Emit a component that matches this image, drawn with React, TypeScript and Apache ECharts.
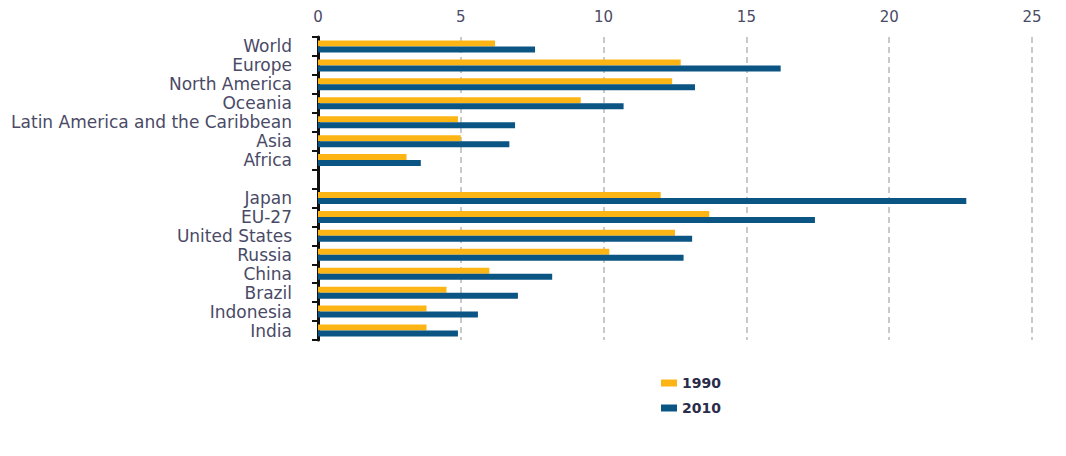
import React, { useEffect, useRef } from "react";
import * as echarts from "echarts";

const categories = [
  "World",
  "Europe",
  "North America",
  "Oceania",
  "Latin America and the Caribbean",
  "Asia",
  "Africa",
  "",
  "Japan",
  "EU-27",
  "United States",
  "Russia",
  "China",
  "Brazil",
  "Indonesia",
  "India",
];

const values1990 = [6.2, 12.7, 12.4, 9.2, 4.9, 5.0, 3.1, null, 12.0, 13.7, 12.5, 10.2, 6.0, 4.5, 3.8, 3.8];
const values2010 = [7.6, 16.2, 13.2, 10.7, 6.9, 6.7, 3.6, null, 22.7, 17.4, 13.1, 12.8, 8.2, 7.0, 5.6, 4.9];

const xTicks = [0, 5, 10, 15, 20, 25];

const seriesNames = ["1990", "2010"];
const colors = ["#FDB515", "#0B5584"];

export default function App() {
  const ref = useRef<HTMLDivElement>(null);

  useEffect(() => {
    if (!ref.current) return;
    const chart = echarts.init(ref.current, null, { renderer: "svg" });
    const font = "'DejaVu Sans', sans-serif";
    chart.setOption({
      animation: false,
      backgroundColor: "#ffffff",
      grid: { left: 318, right: 34, top: 37, height: 303 },
      legend: {
        orient: "vertical",
        left: 656,
        top: 371,
        itemWidth: 16,
        itemHeight: 7,
        itemGap: 11,
        icon: "rect",
        data: seriesNames,
        textStyle: {
          fontFamily: font,
          fontSize: 14,
          fontWeight: "bold",
          color: "#2b2b4a",
        },
      },
      xAxis: {
        type: "value",
        position: "top",
        min: xTicks[0],
        max: xTicks[xTicks.length - 1],
        interval: 5,
        axisLine: { show: false },
        axisTick: { show: false },
        axisLabel: {
          margin: 13,
          fontFamily: font,
          fontSize: 15,
          color: "#4a4a66",
        },
        splitLine: {
          show: true,
          lineStyle: { color: "#b8b8b8", type: [6, 4], width: 1.5 },
        },
      },
      yAxis: {
        type: "category",
        inverse: true,
        data: categories,
        axisLine: { show: true, lineStyle: { color: "#111111", width: 3 } },
        axisTick: {
          show: true,
          length: 6,
          interval: 0,
          lineStyle: { color: "#111111", width: 2 },
        },
        axisLabel: {
          interval: 0,
          margin: 26,
          fontFamily: font,
          fontSize: 17,
          color: "#4a4a66",
        },
      },
      series: [
        {
          name: seriesNames[0],
          type: "bar",
          data: values1990,
          barWidth: 6,
          barGap: "0%",
          itemStyle: { color: colors[0] },
        },
        {
          name: seriesNames[1],
          type: "bar",
          data: values2010,
          barWidth: 6,
          barGap: "0%",
          itemStyle: { color: colors[1] },
        },
      ],
    });
    return () => chart.dispose();
  }, []);

  return (
    <div
      ref={ref}
      style={{ position: "absolute", left: 0, top: 0, width: 1066, height: 456 }}
    />
  );
}
